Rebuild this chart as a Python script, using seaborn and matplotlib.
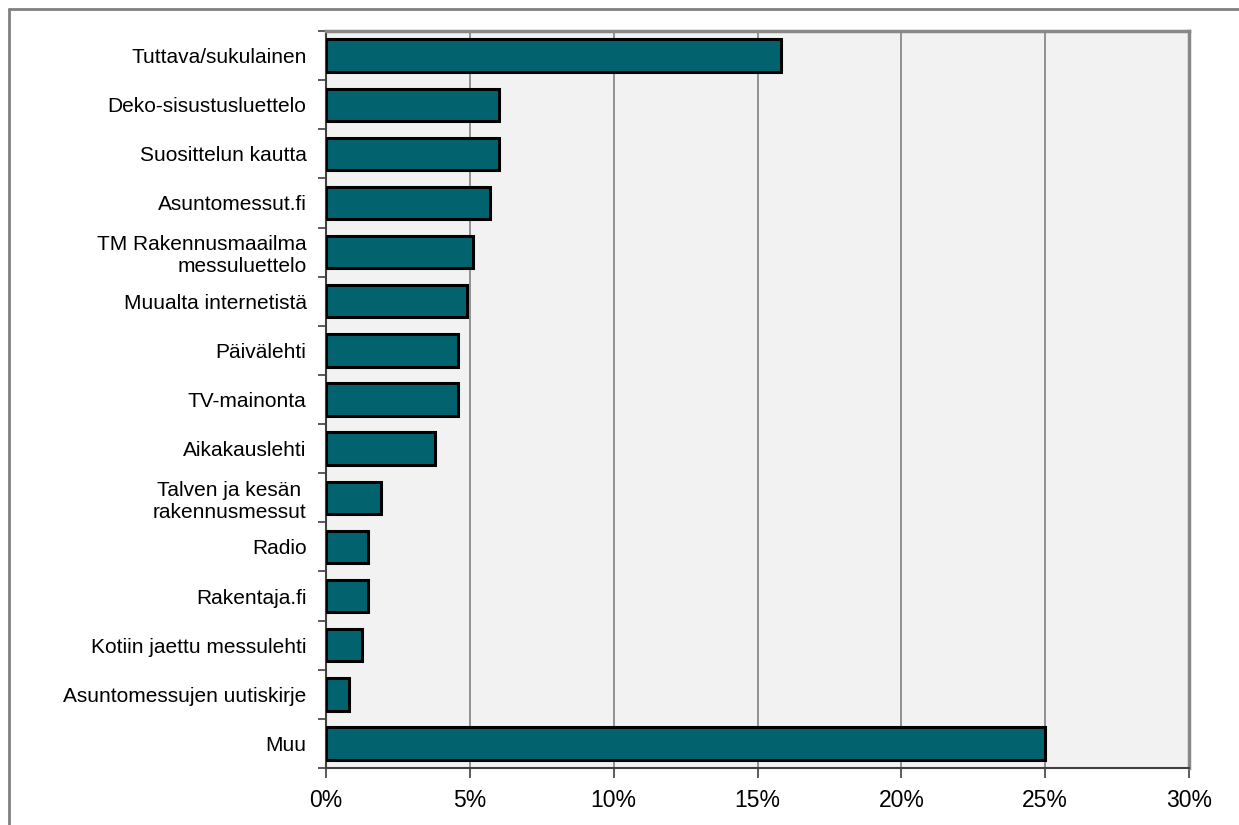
import matplotlib.pyplot as plt
import matplotlib
from matplotlib.lines import Line2D
from matplotlib.ticker import FixedLocator, PercentFormatter
import seaborn as sns
import pandas as pd

# lähteet ja osuudet (%)
lahteet = ['Tuttava/sukulainen', 'Deko-sisustusluettelo', 'Suosittelun kautta',
           'Asuntomessut.fi', 'TM Rakennusmaailma\nmessuluettelo', 'Muualta internetistä',
           'Päivälehti', 'TV-mainonta', 'Aikakauslehti', 'Talven ja kesän \nrakennusmessut',
           'Radio', 'Rakentaja.fi', 'Kotiin jaettu messulehti',
           'Asuntomessujen uutiskirje', 'Muu']
osuudet = [15.8, 6.0, 6.0, 5.7, 5.1, 4.9, 4.6, 4.6, 3.8, 1.9, 1.45, 1.45, 1.25, 0.8, 25.0]
x_ticks = [0, 5, 10, 15, 20, 25, 30]

sns.set_style('white')
matplotlib.rcParams['font.family'] = ['Liberation Sans', 'DejaVu Sans']
matplotlib.rcParams['text.color'] = 'black'
matplotlib.rcParams['xtick.labelcolor'] = 'black'
matplotlib.rcParams['ytick.labelcolor'] = 'black'

df = pd.DataFrame({'lahde': lahteet, 'osuus': osuudet})

fig = plt.figure(figsize=(12.39, 8.25), dpi=100)
ax = fig.add_axes([0.2631, 0.0691, 0.9597 - 0.2631, 0.9624 - 0.0691])
ax.set_facecolor('#f2f2f2')

sns.barplot(data=df, x='osuus', y='lahde', orient='h', color='#02636f',
            saturation=1, edgecolor='black', linewidth=2.2, width=0.66, ax=ax, zorder=3)

ax.set_xlim(0, 30)
ax.set_ylim(len(lahteet) - 0.5, -0.5)
ax.xaxis.set_major_locator(FixedLocator(x_ticks))
ax.xaxis.set_major_formatter(PercentFormatter(decimals=0))
ax.grid(axis='x', color='#808080', linewidth=1.2, zorder=0)
ax.set_axisbelow(True)

# y-akselin tikit kategorioiden rajoille
ax.yaxis.set_minor_locator(FixedLocator([i - 0.5 for i in range(len(lahteet) + 1)]))
ax.tick_params(axis='y', which='major', length=0, pad=14, labelsize=15, labelcolor='black')
ax.tick_params(axis='y', which='minor', length=6, width=1.2, color='#404040', left=True)
ax.tick_params(axis='x', length=7, width=1.2, color='#404040', bottom=True, pad=8,
               labelsize=16.5, labelcolor='black')
for lab in ax.get_yticklabels():
    lab.set_multialignment('right')

ax.set_xlabel('')
ax.set_ylabel('')

for side in ['left', 'bottom']:
    ax.spines[side].set_color('#404040')
    ax.spines[side].set_linewidth(1.5)
for side in ['top', 'right']:
    ax.spines[side].set_color('#888888')
    ax.spines[side].set_linewidth(2.5)

# kuvan reunaviiva (ylä ja vasen)
fig.add_artist(Line2D([8.5 / 1239, 1], [1 - 9 / 825, 1 - 9 / 825], transform=fig.transFigure,
                      color='#808080', linewidth=2))
fig.add_artist(Line2D([8.5 / 1239, 8.5 / 1239], [0, 1 - 9 / 825], transform=fig.transFigure,
                      color='#808080', linewidth=2))

plt.savefig('out.png', dpi=100)
